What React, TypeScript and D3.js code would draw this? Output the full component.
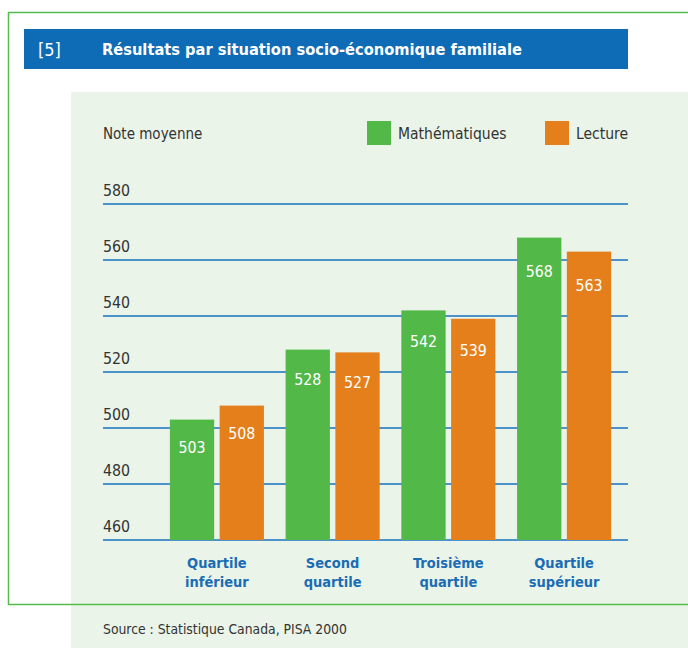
import { useEffect, useRef } from 'react';
import * as d3 from 'd3';

const CATEGORIES = [
  ['Quartile', 'inférieur'],
  ['Second', 'quartile'],
  ['Troisième', 'quartile'],
  ['Quartile', 'supérieur'],
];
const MATH = [503, 528, 542, 568];
const LECTURE = [508, 527, 539, 563];
const SERIES = [
  { key: 'math', label: 'Mathématiques', color: '#52b848', values: MATH },
  { key: 'lecture', label: 'Lecture', color: '#e47f1c', values: LECTURE },
];
const Y_TICKS = [460, 480, 500, 520, 540, 560, 580];

const FONT = "'DejaVu Sans Condensed', 'DejaVu Sans', sans-serif";
const BLUE = '#0e6bb5';

const App = () => {
  const svgRef = useRef<SVGSVGElement>(null);

  useEffect(() => {
    const width = 688;
    const height = 648;
    const svg = d3.select(svgRef.current);
    svg.selectAll('*').remove();
    svg.attr('width', width).attr('height', height).style('display', 'block');

    // frame
    svg.append('rect').attr('width', width).attr('height', height).attr('fill', '#fff');
    svg.append('rect').attr('x', 71).attr('y', 92).attr('width', width - 71).attr('height', height - 92).attr('fill', '#eaf4e8');
    svg.append('path')
      .attr('d', `M${width},12.5 H8.5 V604.5 H${width}`)
      .attr('fill', 'none')
      .attr('stroke', '#55bb4a')
      .attr('stroke-width', 1.5);

    // title bar
    svg.append('rect').attr('x', 24).attr('y', 29).attr('width', 604).attr('height', 40).attr('fill', BLUE);
    svg.append('text')
      .attr('x', 38).attr('y', 56)
      .attr('font-family', FONT).attr('font-size', 18).attr('fill', '#fff')
      .text('[5]');
    svg.append('text')
      .attr('x', 102).attr('y', 55)
      .attr('font-family', FONT).attr('font-size', 16.3).attr('font-weight', 700).attr('fill', '#fff')
      .text('Résultats par situation socio-économique familiale');

    // scales
    const y = d3.scaleLinear().domain([460, 580]).range([540, 204]);
    const x0 = d3.scaleBand<number>()
      .domain(d3.range(CATEGORIES.length))
      .range([159, 622])
      .paddingInner(0.1875)
      .paddingOuter(0.094);
    const x1 = d3.scaleBand<string>()
      .domain(SERIES.map(s => s.key))
      .range([0, x0.bandwidth()])
      .paddingInner(0.11);

    // grid
    const grid = svg.append('g');
    Y_TICKS.forEach(t => {
      grid.append('line')
        .attr('x1', 103).attr('x2', 628)
        .attr('y1', y(t)).attr('y2', y(t))
        .attr('stroke', '#1a72c0').attr('stroke-width', 1.5);
      grid.append('text')
        .attr('x', 103).attr('y', y(t) - 8)
        .attr('font-family', FONT).attr('font-size', 15.8).attr('fill', '#333')
        .text(t);
    });

    svg.append('text')
      .attr('x', 103).attr('y', 139)
      .attr('font-family', FONT).attr('font-size', 15).attr('fill', '#333')
      .text('Note moyenne');

    // legend
    const legendX = [367, 545];
    SERIES.forEach((s, i) => {
      const g = svg.append('g').attr('transform', `translate(${legendX[i]},121)`);
      g.append('rect').attr('width', 24).attr('height', 24).attr('fill', s.color);
      g.append('text')
        .attr('x', 31).attr('y', 18)
        .attr('font-family', FONT).attr('font-size', 15.5).attr('fill', '#333')
        .text(s.label);
    });

    // bars
    SERIES.forEach(s => {
      const g = svg.append('g');
      s.values.forEach((v, i) => {
        const bx = x0(i)! + x1(s.key)!;
        const top = y(v);
        const h = y(460) - top;
        g.append('rect')
          .attr('x', bx).attr('y', top)
          .attr('width', x1.bandwidth()).attr('height', h)
          .attr('fill', s.color);
        g.append('text')
          .attr('x', bx + x1.bandwidth() / 2)
          .attr('y', top + 29 + 0.035 * h)
          .attr('text-anchor', 'middle')
          .attr('font-family', FONT).attr('font-size', 15.8).attr('fill', '#fff')
          .text(v);
      });
    });

    // category labels
    CATEGORIES.forEach((lines, i) => {
      const cx = x0(i)! + x0.bandwidth() / 2;
      const t = svg.append('text')
        .attr('x', cx)
        .attr('y', 568)
        .attr('text-anchor', 'middle')
        .attr('font-family', FONT).attr('font-size', 14.5).attr('font-weight', 700).attr('fill', '#1a6db5');
      lines.forEach((l, j) => {
        t.append('tspan').attr('x', cx).attr('dy', j === 0 ? 0 : 19).text(l);
      });
    });

    svg.append('text')
      .attr('x', 103).attr('y', 634)
      .attr('font-family', FONT).attr('font-size', 13.8).attr('fill', '#333')
      .text('Source : Statistique Canada, PISA 2000');
  }, []);

  return <svg ref={svgRef} style={{ position: 'absolute', left: 0, top: 0 }} />;
};

export default App;
